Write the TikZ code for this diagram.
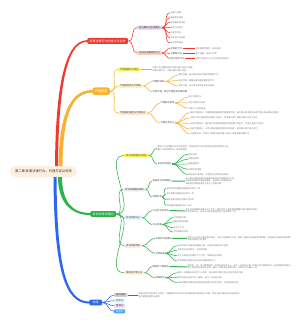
\documentclass[tikz,border=0pt]{standalone}
\usepackage{fontspec}
\setmainfont{Noto Sans CJK SC}
\definecolor{cRed}{HTML}{EE3A2E}
\definecolor{cOrange}{HTML}{F7B231}
\definecolor{cGreen}{HTML}{2DB24C}
\definecolor{cBlue}{HTML}{2B68EE}
\definecolor{rootfill}{HTML}{FDEEDD}
\definecolor{leafgray}{HTML}{7A7A7A}
\definecolor{fPurple}{HTML}{E7CCEF}
\definecolor{fPink}{HTML}{F8CFC3}
\definecolor{fYellow}{HTML}{FFF44F}
\definecolor{fLYellow}{HTML}{FDF0C6}
\definecolor{fPeach}{HTML}{FCE7CF}
\definecolor{fGGray}{HTML}{E6EDE6}
\definecolor{fLBlue}{HTML}{DCF0F9}
\definecolor{fLPink}{HTML}{FBE3E3}
\definecolor{fLPeach}{HTML}{FDEDD5}
\definecolor{fGray}{HTML}{D0D0D0}
\definecolor{fCyan}{HTML}{DDF6FA}
\definecolor{fLilac}{HTML}{ECD5F6}
\definecolor{fSky}{HTML}{4BA3F2}
\tikzset{
 rootnode/.style={fill=rootfill, rounded corners=5.5pt, minimum width=67pt, minimum height=11pt, inner sep=0pt, text=black!80, font=\fontsize{3.3}{4}\selectfont},
 mainnode/.style={fill=#1, rounded corners=2pt, inner xsep=2.5pt, inner ysep=1.6pt, text=white, font=\fontsize{3}{3.6}\selectfont, anchor=west},
 subnode/.style={fill=#1, rounded corners=0.8pt, inner xsep=2pt, inner ysep=0.9pt, text=black!75, font=\fontsize{2.3}{2.8}\selectfont, anchor=west},
 txt/.style={inner sep=0.4pt, text=black!70, font=\fontsize{2.3}{2.8}\selectfont, anchor=west, align=left},
 leaf/.style={inner sep=0.4pt, text=leafgray, font=\fontsize{2.1}{2.6}\selectfont, anchor=west, align=left},
 lk/.style={draw=#1, line width=0.55pt, out=0, in=180},
 lkb/.style={draw=#1, line width=1pt},
}
\begin{document}
\begin{tikzpicture}[x=1pt,y=-1pt]
\useasboundingbox (0,0) rectangle (300,323);
\fill[white] (0,0) rectangle (300,323);

% root
\node[rootnode] (root) at (43.5,171.5) {第二章 民事法律行为、代理与诉讼时效};
\coordinate (sR) at (56.5,166);
\coordinate (sO) at (60.5,166);
\coordinate (sG) at (60,177);
\coordinate (sB) at (55,177);

% ---------------- red branch
\node[mainnode=cRed] (m1) at (87,41) {民事法律行为的成立与生效};
\node[subnode=fPurple] (r1) at (137,27.7) {成立要件与生效要件};
\node[leaf] (r1a) at (170,12.8) {当事人适格};
\node[leaf] (r1b) at (170,17.5) {意思表示真实};
\node[leaf] (r1c) at (170,22.2) {标的确定且可能};
\node[leaf] (r1d) at (170,27.5) {具有行为能力};
\node[leaf] (r1e) at (170,32.8) {内容不违法};
\node[leaf] (r1f) at (170,37.8) {不违背公序良俗};
\node[leaf] (r1g) at (170,42.8) {形式符合要求};
\node[subnode=fPink] (r2) at (137,53) {无效与可撤销的行为};
\node[txt] (r2a) at (170,48.3) {无效的行为};
\node[txt] (r2b) at (170,53.3) {可撤销行为};
\node[txt] (r2c) at (170,58.5) {效力待定行为};
\node[leaf] (r2at) at (195,48.3) {违反强制性规定，自始无效};
\node[leaf] (r2bt) at (195,53.3) {重大误解、显失公平等};
\node[leaf] (r2ct) at (195,58.5) {限制行为能力人订立的合同须经追认};

\fill[cRed] ([xshift=-1.5pt]sR) .. controls (55.5,100) and (62,40.2) .. ([yshift=0.8pt]m1.west)
  -- ([yshift=-0.8pt]m1.west) .. controls (64,41.8) and (58.5,100) .. ([xshift=1.5pt]sR) -- cycle;
\draw[lk=cRed] (m1.east) to (r1.west) (m1.east) to (r2.west);
\foreach \n in {r1a,r1b,r1c,r1d,r1e,r1f,r1g} \draw[lk=cRed] (r1.east) to (\n.west);
\foreach \n in {r2a,r2b,r2c} \draw[lk=cRed] (r2.east) to (\n.west);
\draw[lkb=cRed] (r2a.east) -- (r2at.west);
\draw[lkb=cRed] (r2b.east) -- (r2bt.west);
\draw[lkb=cRed] (r2c.east) -- (r2ct.west);

% ---------------- orange branch
\node[mainnode=cOrange, inner xsep=3pt, inner ysep=2.5pt, rounded corners=3pt] (m2) at (92,91.3) {代理制度};
\node[subnode=fYellow] (o1) at (118,69.3) {代理的概念与特征};
\node[leaf] (o1t) at (152,69.3) {代理人在代理权限内以被代理人的名义实施\\民事法律行为，后果由被代理人承担};
\node[subnode=fLYellow] (o2) at (118,86) {代理的种类与代理权};
\node[txt] (o2a) at (152,81.5) {代理的种类};
\node[leaf] (o2a1) at (178,75) {委托代理：基于被代理人的委托授权而产生};
\node[leaf] (o2a2) at (178,80.5) {法定代理：根据法律的直接规定而产生};
\node[leaf] (o2a3) at (178,86) {指定代理：由人民法院或有关机关指定};
\node[txt] (o2b) at (152,91.7) {无权代理、表见代理及其法律后果};
\node[subnode=fPeach] (o3) at (118,113) {代理权的滥用与代理终止};
\node[txt] (o3a) at (160,103) {代理权的滥用};
\node[leaf] (o3a1) at (188,97.2) {自己代理行为};
\node[leaf] (o3a2) at (188,102.8) {双方代理行为无效};
\node[leaf] (o3a3) at (188,108.3) {与第三人恶意串通};
\node[txt] (o3b) at (160,123) {代理关系终止};
\node[leaf] (o3b1) at (190,112.7) {委托代理终止：代理期间届满或者代理事务完成；被代理人取消委托或者代理人辞去委托的情形};
\node[leaf] (o3b2) at (190,117.8) {代理人死亡或者丧失民事行为能力；作为被代理人或者代理人的法人终止};
\node[leaf] (o3b3) at (190,123.3) {法定代理终止：被代理人取得或者恢复完全民事行为能力；代理人丧失行为能力};
\node[leaf] (o3b4) at (190,129) {指定代理终止：人民法院或者指定单位取消指定；被代理人或代理人死亡};
\node[leaf] (o3b5) at (190,134) {代理终止后，代理人不得再以被代理人的名义实施民事法律行为};

\fill[cOrange] ([xshift=-2pt]sO) .. controls (59,120) and (68,90.2) .. ([yshift=1.3pt]m2.west)
  -- ([yshift=-1.3pt]m2.west) .. controls (70,92.8) and (63,120) .. ([xshift=2pt]sO) -- cycle;
\foreach \n in {o1,o2,o3} \draw[lk=cOrange] (m2.east) to (\n.west);
\draw[lk=cOrange] (o1.east) to (o1t.west);
\draw[lk=cOrange] (o2.east) to (o2a.west) (o2.east) to (o2b.west);
\foreach \n in {o2a1,o2a2,o2a3} \draw[lk=cOrange] (o2a.east) to (\n.west);
\draw[lk=cOrange] (o3.east) to (o3a.west) (o3.east) to (o3b.west);
\foreach \n in {o3a1,o3a2,o3a3} \draw[lk=cOrange] (o3a.east) to (\n.west);
\foreach \n in {o3b1,o3b2,o3b3,o3b4,o3b5} \draw[lk=cOrange] (o3b.east) to (\n.west);

% ---------------- green branch
\node[mainnode=cGreen] (m3) at (90,214) {诉讼时效与期间};
\node[subnode=fYellow] (g1) at (124,155.5) {诉讼时效概述与特征};
\node[leaf] (g1a) at (157,148.3) {权利人在法定期间内不行使权利，即丧失请求人民法院依诉讼程序强制义务人\\履行义务的权利的一种法律制度};
\node[txt] (g1b) at (157,164) {诉讼时效特征};
\node[leaf] (g1b1) at (188,154.2) {期间法定};
\node[leaf] (g1b2) at (188,159.2) {强制性规范};
\node[leaf] (g1b3) at (188,164.2) {普遍适用性};
\node[leaf] (g1b4) at (188,169.3) {不得约定排除};
\node[leaf] (g1b5) at (188,174.5) {仅适用于请求权，不适用于形成权与抗辩权};

\node[subnode=fGGray] (g2) at (123,189.5) {诉讼时效期间种类};
\node[txt] (g2a) at (152,181) {普通诉讼时效期间};
\node[leaf] (g2at) at (185,181.2) {向人民法院请求保护民事权利的诉讼时效期间为三年，\\法律另有规定的依照其规定，自权利人知道或应当\\知道权利受到损害及义务人之日起计算};
\node[txt] (g2b) at (152,197) {特殊时效};
\node[leaf] (g2b1) at (166,188.3) {身体受到伤害要求赔偿的时效为一年};
\node[leaf] (g2b2) at (166,194) {延付或拒付租金的时效为一年};
\node[leaf] (g2b3) at (166,200) {国际货物买卖合同争议为四年};
\node[leaf] (g2b4) at (166,205.3) {权利最长保护期间为二十年};

\node[subnode=fLBlue] (g3) at (124,217.7) {诉讼时效中止};
\node[txt] (g3a) at (152,210.7) {中止的法定条件};
\node[leaf] (g3at) at (185,210.8) {在诉讼时效期间的最后六个月内，因不可抗力或者其他障碍不能行使请求权的，\\诉讼时效中止，自中止时效的原因消除之日起满六个月};
\node[txt] (g3b) at (152,224.5) {中止效果};
\node[leaf] (g3b1) at (173,217.7) {时效暂停计算};
\node[leaf] (g3b2) at (173,221.9) {障碍消除后续算};
\node[leaf] (g3b3) at (173,227.7) {补足六个月};
\node[leaf] (g3b4) at (173,232.2) {不适用最长时效};

\node[subnode=fLPink] (g4) at (124,245.7) {诉讼时效中断};
\node[txt] (g4a) at (155,238.3) {中断的法定事由};
\node[leaf] (g4at) at (187,238.5) {权利人向义务人提出履行请求、义务人同意履行义务、权利人提起诉讼或者申请仲裁、与提起诉讼或者申请仲裁\\具有同等效力的情形};
\node[txt] (g4b) at (155,253.3) {中断效果};
\node[leaf] (g4b1) at (177,245.7) {诉讼时效从中断时起重新计算，已经过的期间归于无效};
\node[leaf] (g4b2) at (177,250.2) {中断可以多次发生，无次数限制};
\node[leaf] (g4b3) at (177,255.7) {中止只能发生在最后六个月内，中断则无此限制};
\node[leaf] (g4b4) at (177,261) {中断事由必须发生在诉讼时效期间进行中};

\node[subnode=fLPeach] (g5) at (124,272.7) {期间的计算方法};
\node[txt] (g5a) at (152,266.7) {期间的计算规则};
\node[leaf] (g5at) at (187,266.8) {按照年、月、日计算期间的，开始的当日不计入，自下一日开始计算；按照小时计算期间的，自法律规定或者当\\事人约定的时间开始计算；最后一日是法定休假日的，以其次日为最后一日};
\node[txt] (g5b) at (155,277.7) {特殊规定};
\node[leaf] (g5b1) at (177,272.7) {最后一日的截止时间为二十四时，有业务时间的以停止业务活动时为准};
\node[leaf] (g5b2) at (177,277.3) {期间开始的当日不计入期间，自下一日开始计算};
\node[leaf] (g5b3) at (177,282.7) {法律对期间计算另有规定或者当事人另有约定的，从其规定或约定};

\fill[cGreen] ([xshift=-2pt]sG) .. controls (58,200) and (69,215) .. ([yshift=-1pt]m3.west)
  -- ([yshift=1pt]m3.west) .. controls (71,213) and (62,200) .. ([xshift=2pt]sG) -- cycle;
\foreach \n in {g1,g2,g3,g4,g5} \draw[lk=cGreen] (m3.east) to (\n.west);
\draw[lk=cGreen] (g1.east) to (g1a.west) (g1.east) to (g1b.west);
\foreach \n in {g1b1,g1b2,g1b3,g1b4,g1b5} \draw[lk=cGreen] (g1b.east) to (\n.west);
\draw[lk=cGreen] (g2.east) to (g2a.west) (g2.east) to (g2b.west);
\draw[lkb=cGreen] (g2a.east) -- (g2at.west);
\foreach \n in {g2b1,g2b2,g2b3,g2b4} \draw[lk=cGreen] (g2b.east) to (\n.west);
\draw[lk=cGreen] (g3.east) to (g3a.west) (g3.east) to (g3b.west);
\draw[lkb=cGreen] (g3a.east) -- (g3at.west);
\foreach \n in {g3b1,g3b2,g3b3,g3b4} \draw[lk=cGreen] (g3b.east) to (\n.west);
\draw[lk=cGreen] (g4.east) to (g4a.west) (g4.east) to (g4b.west);
\draw[lkb=cGreen] (g4a.east) -- (g4at.west);
\foreach \n in {g4b1,g4b2,g4b3,g4b4} \draw[lk=cGreen] (g4b.east) to (\n.west);
\draw[lk=cGreen] (g5.east) to (g5a.west) (g5.east) to (g5b.west);
\draw[lkb=cGreen] (g5a.east) -- (g5at.west);
\foreach \n in {g5b1,g5b2,g5b3} \draw[lk=cGreen] (g5b.east) to (\n.west);

% ---------------- blue branch
\node[mainnode=cBlue, inner xsep=3.5pt] (m4) at (89,302.5) {总结};
\node[subnode=fGray] (b1) at (114,295) {重点回顾};
\node[leaf] (b1t) at (138,295) {民事法律行为的成立与生效、代理制度以及诉讼时效与期间是本章的核心内容，考试中常以案例形式综合考查\\重点掌握各要件与效果};
\node[subnode=fCyan] (b2) at (114,300.7) {常考点};
\node[subnode=fLilac] (b3) at (114,305.7) {重难点};
\node[subnode=fSky, text=white] (b4) at (114,311.3) {易错点};

\fill[cBlue] ([xshift=-1.5pt]sB) .. controls (54,270) and (65,303.5) .. ([yshift=-1pt]m4.west)
  -- ([yshift=1pt]m4.west) .. controls (67,301.5) and (57,270) .. ([xshift=1.5pt]sB) -- cycle;
\foreach \n in {b1,b2,b3,b4} \draw[lk=cBlue] (m4.east) to (\n.west);
\draw[lkb=cBlue] (b1.east) -- (b1t.west);
\end{tikzpicture}
\end{document}
